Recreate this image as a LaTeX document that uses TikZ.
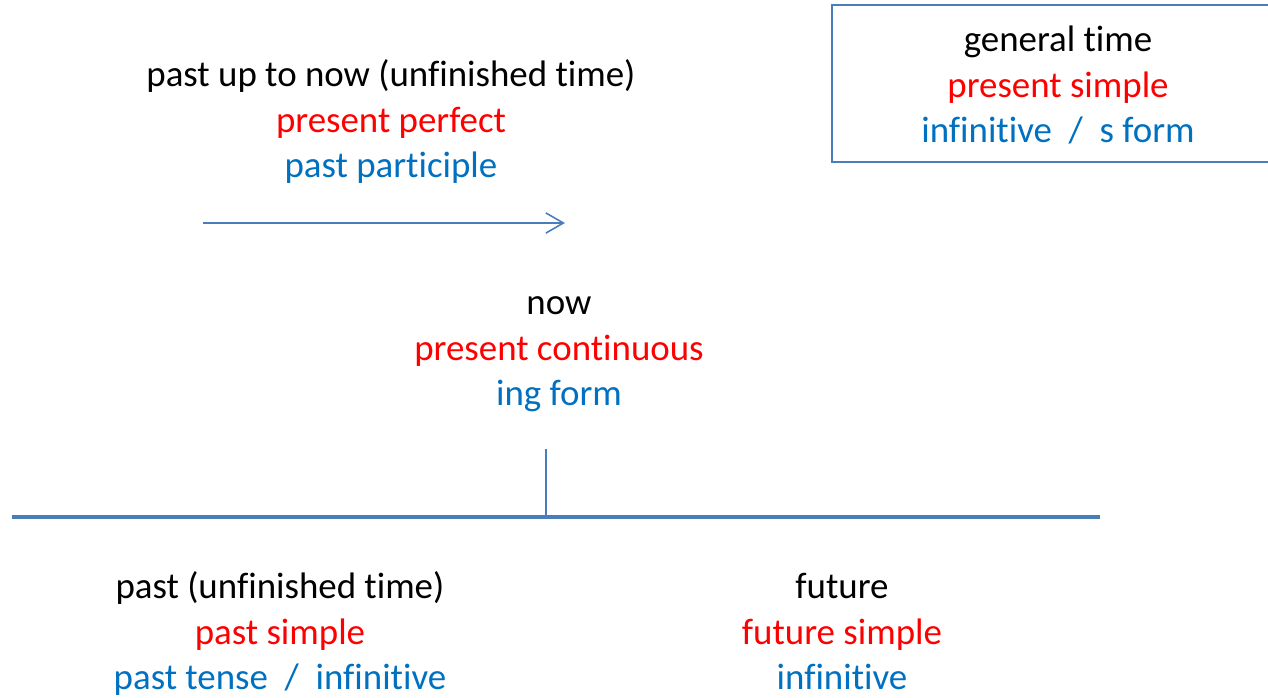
\documentclass[tikz,border=0pt]{standalone}
\usepackage{fontspec}
\setmainfont{Carlito}[Ligatures={NoCommon}]
\usetikzlibrary{arrows.meta}

\definecolor{lineblue}{HTML}{4A7EBB}
\definecolor{formblue}{HTML}{0070C0}
\definecolor{tensered}{HTML}{FF0000}

\begin{document}
\begin{tikzpicture}[
    x=0.02cm, y=-0.02cm,
    label/.style   = {align=center, inner sep=0pt,
                      font=\fontsize{21}{25.8}\selectfont},
    boxframe/.style = {draw=lineblue, line width=0.9pt, inner sep=0pt,
                      minimum width=9.04cm, minimum height=3.14cm},
    timearrow/.style = {draw=lineblue, line width=0.9pt,
                      -{Straight Barb[length=10pt, width=11.5pt, line width=0.9pt]}},
    timeline/.style = {draw=lineblue, line width=2.8pt},
    tick/.style     = {draw=lineblue, line width=0.9pt},
]
\useasboundingbox (0,0) rectangle (1268,697);

% colour helpers for the three lines of each group
\def\tname#1{\strut#1}
\def\tense#1{\strut\textcolor{tensered}{#1}}
\def\vform#1{\strut\textcolor{formblue}{#1}}

%% general time box (runs off the right edge)
\node[boxframe] (generalFrame) at (1058,83.5) {};
\node[label] (general) at (1058,88)
    {\tname{general time}\\\tense{present simple}\\\vform{infinitive\ \ /\ \ s form}};

%% past up to now
\node[label] (upToNow) at (391,123)
    {\tname{past up to now (unfinished time)}\\\tense{present perfect}\\\vform{past participle}};
\coordinate (arrowL) at (203,223);
\coordinate (arrowR) at (565,223);
\draw[timearrow] (arrowL) -- (arrowR);

%% now
\node[label] (now) at (559,351)
    {\tname{now}\\\tense{present continuous}\\\vform{ing form}};

%% time line with the mark for now
\coordinate (lineL) at (12,517);
\coordinate (lineR) at (1100,517);
\coordinate (nowTop) at (546,449);
\coordinate (nowFoot) at (546,517);
\draw[timeline] (lineL) -- (lineR);
\draw[tick] (nowTop) -- (nowFoot);

%% past and future below the line
\node[label] (past) at (280,635)
    {\tname{past (unfinished time)}\\\tense{past simple}\\\vform{past tense\ \ /\ \ infinitive}};
\node[label] (future) at (842,635)
    {\tname{future}\\\tense{future simple}\\\vform{infinitive}};

\end{tikzpicture}
\end{document}
